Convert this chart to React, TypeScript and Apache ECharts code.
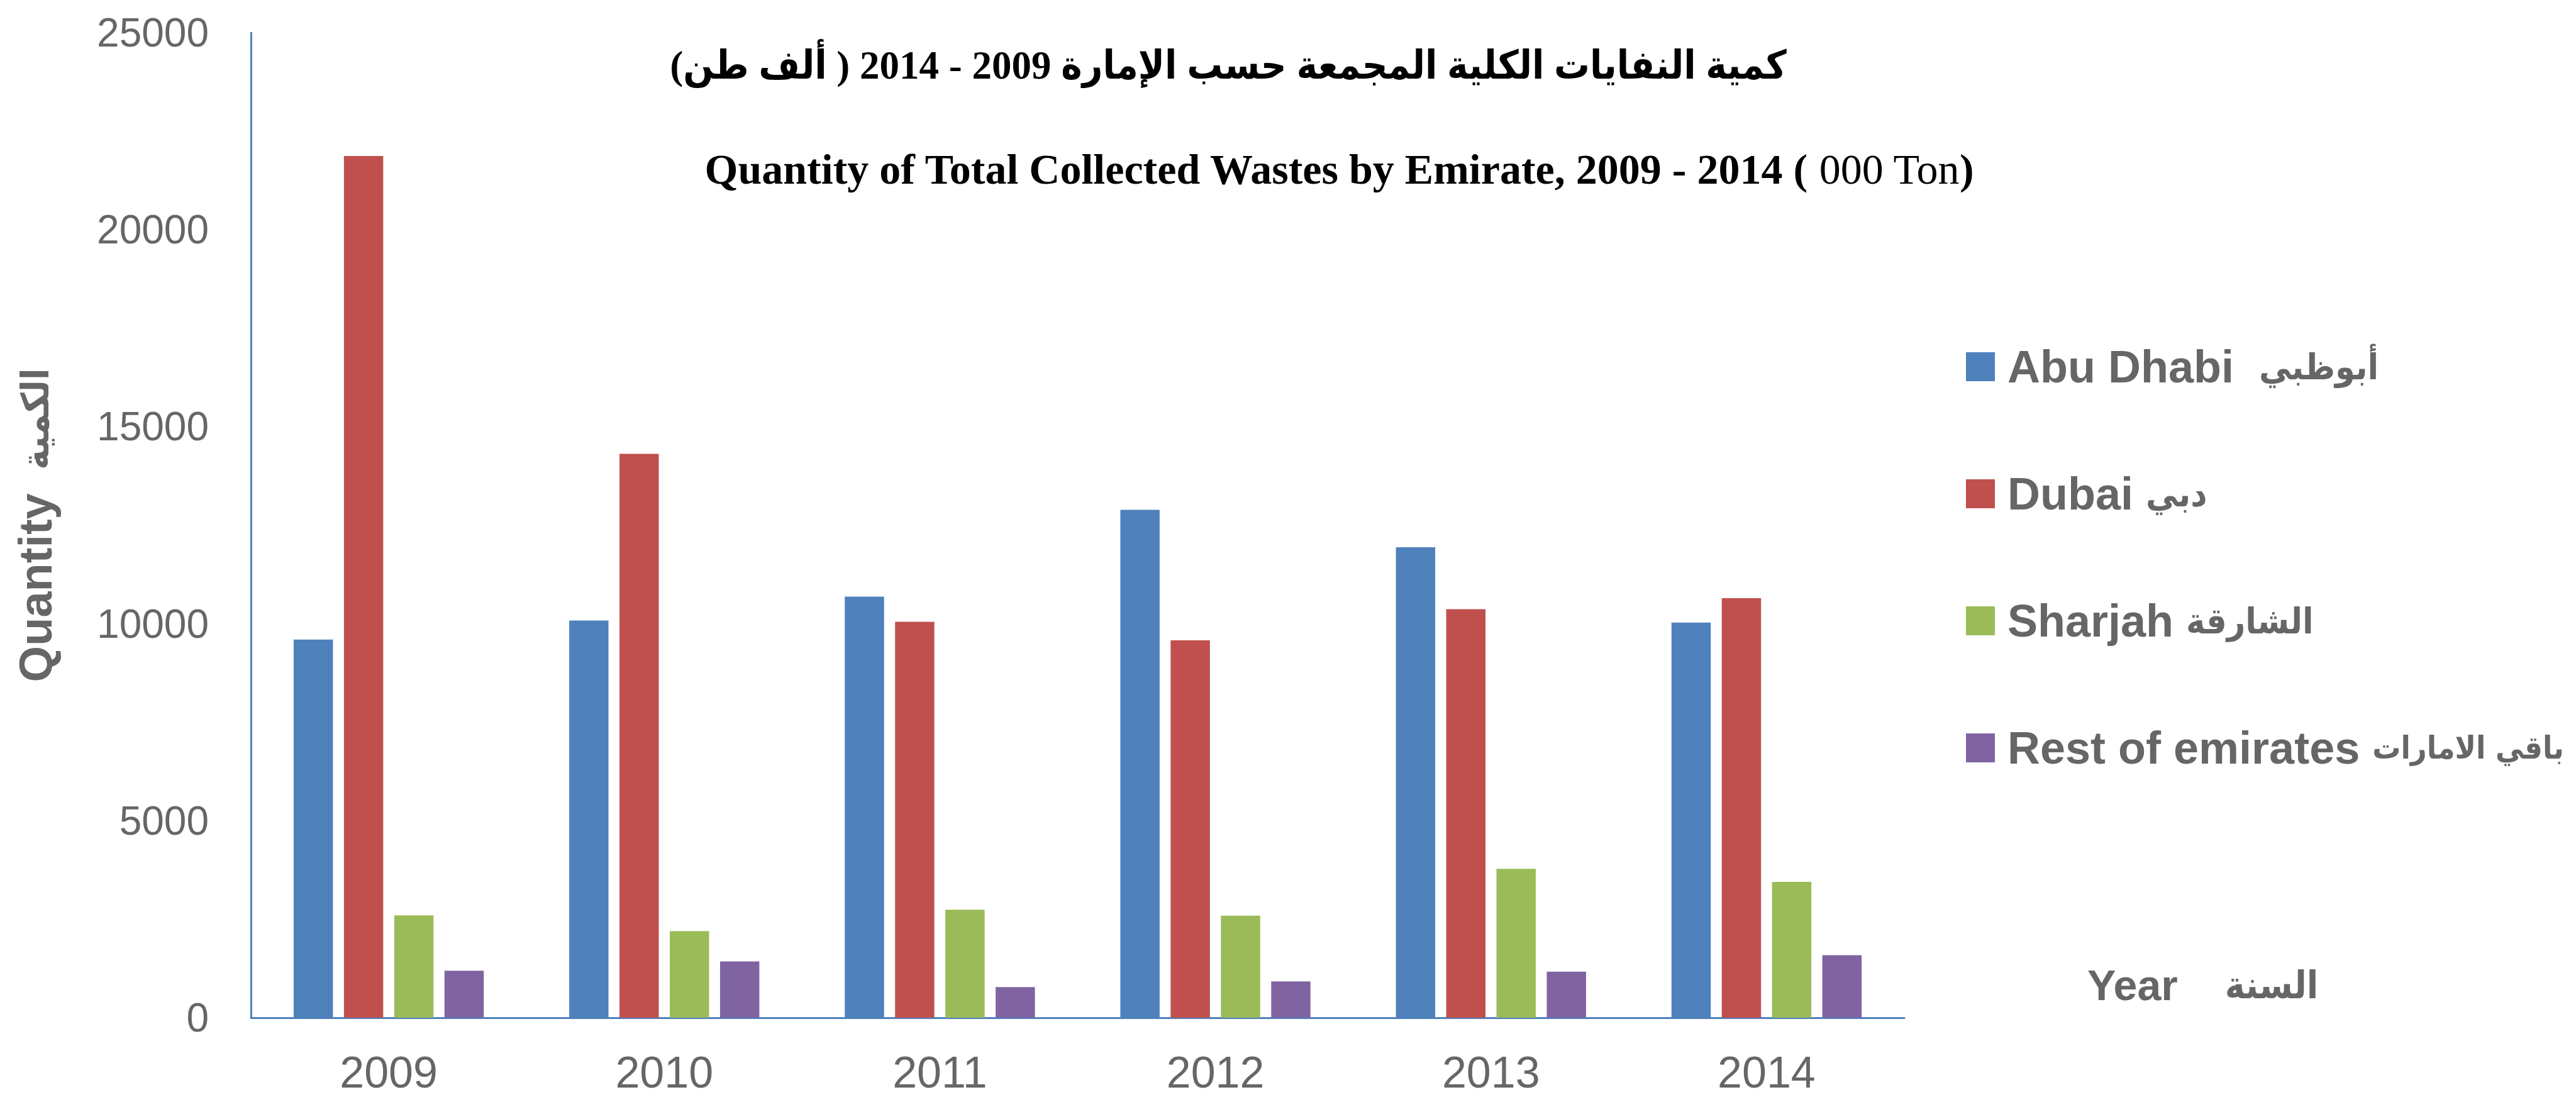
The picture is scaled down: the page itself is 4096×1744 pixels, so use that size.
import React, { useEffect, useRef } from "react";
import * as echarts from "echarts";

const years = ["2009", "2010", "2011", "2012", "2013", "2014"];
const namesEn = ["Abu Dhabi", "Dubai", "Sharjah", "Rest of emirates"];
const namesAr = ["أبوظبي", "دبي", "الشارقة", "باقي الامارات"];
const nameSep = ["  ", " ", " ", " "];
const abuDhabi = [9600, 10080, 10690, 12890, 11940, 10030];
const dubai = [21870, 14310, 10050, 9580, 10370, 10650];
const sharjah = [2600, 2200, 2740, 2590, 3780, 3450];
const restOfEmirates = [1195, 1430, 780, 920, 1170, 1590];
const colors = ["#4F81BD", "#C0504D", "#9BBB59", "#8064A2"];
const yTicks = { min: 0, max: 25000, interval: 5000 };

const titleAr = "كمية النفايات الكلية المجمعة حسب الإمارة 2009 - 2014 ( ألف طن)";
const titleEnBold = "Quantity of Total Collected Wastes by Emirate, 2009 - 2014 (";
const titleEnUnit = " 000 Ton";
const yNameEn = "Quantity";
const yNameAr = "الكمية";
const xNameEn = "Year";
const xNameAr = "السنة";

const GRAY = "#666666";
const SANS = "'Liberation Sans', 'DejaVu Sans Condensed', 'DejaVu Sans', sans-serif";
const AR = "'DejaVu Sans Condensed', 'DejaVu Sans', sans-serif";
const SERIF = "'Liberation Serif', 'DejaVu Sans Condensed', 'DejaVu Sans', serif";

export default function App() {
  const ref = useRef<HTMLDivElement>(null);
  useEffect(() => {
    if (!ref.current) return;
    const chart = echarts.init(ref.current, null, { renderer: "svg" });
    const data = [abuDhabi, dubai, sharjah, restOfEmirates];
    const seriesNames = namesEn.map((n, i) => n + nameSep[i] + namesAr[i]);
    chart.setOption({
      animation: false,
      backgroundColor: "#ffffff",
      grid: {
        left: 399,
        right: 1068,
        top: 52,
        bottom: 126,
        containLabel: false,
        outerBoundsMode: "none",
      },
      legend: {
        orient: "vertical",
        left: 3121,
        top: 542,
        itemGap: 130,
        itemWidth: 46,
        itemHeight: 46,
        icon: "rect",
        data: seriesNames,
        formatter: (name: string) => {
          const i = seriesNames.indexOf(name);
          const st = i === namesEn.length - 1 ? "arS" : "ar";
          return `{en|${namesEn[i]}${nameSep[i]}}{${st}|${namesAr[i]}}`;
        },
        textStyle: {
          fontSize: 72,
          lineHeight: 72,
          fontWeight: "bold",
          color: GRAY,
          fontFamily: SANS,
          padding: [0, 0, 0, 15],
          rich: {
            en: { fontSize: 72, fontWeight: "bold", color: GRAY, fontFamily: SANS, lineHeight: 72 },
            ar: { fontSize: 57, fontWeight: "bold", color: GRAY, fontFamily: AR, lineHeight: 72 },
            arS: { fontSize: 50, fontWeight: "bold", color: GRAY, fontFamily: AR, lineHeight: 72 },
          },
        },
      },
      xAxis: {
        type: "category",
        data: years,
        axisLine: { show: true, lineStyle: { color: "#4F81BD", width: 3 } },
        axisTick: { show: false },
        axisLabel: { color: GRAY, fontSize: 70, fontFamily: SANS, margin: 52 },
        splitLine: { show: false },
      },
      yAxis: {
        type: "value",
        min: yTicks.min,
        max: yTicks.max,
        interval: yTicks.interval,
        name: `{en|${yNameEn}}{ar|  ${yNameAr}}`,
        nameLocation: "middle",
        nameRotate: 90,
        nameGap: 306,
        nameMoveOverlap: false,
        nameTextStyle: {
          color: GRAY,
          fontSize: 74,
          fontWeight: "bold",
          fontFamily: SANS,
          rich: {
            en: { fontSize: 74, fontWeight: "bold", color: GRAY, fontFamily: SANS },
            ar: { fontSize: 60, fontWeight: "bold", color: GRAY, fontFamily: AR },
          },
        },
        axisLine: { show: true, lineStyle: { color: "#4F81BD", width: 3 } },
        axisTick: { show: false },
        axisLabel: {
          color: GRAY,
          fontSize: 64,
          fontFamily: SANS,
          margin: 67,
          formatter: (v: number) => String(v),
        },
        splitLine: { show: false },
      },
      graphic: [
        {
          type: "text",
          x: 1953,
          y: 104,
          style: {
            text: titleAr,
            font: `bold 63px ${SERIF}`,
            fill: "#000000",
            align: "center",
            verticalAlign: "middle",
          },
        },
        {
          type: "text",
          x: 2129,
          y: 269,
          style: {
            text: `{b|${titleEnBold}}{r|${titleEnUnit}}{b|)}`,
            fill: "#000000",
            align: "center",
            verticalAlign: "middle",
            rich: {
              b: { fontFamily: SERIF, fontWeight: "bold", fontSize: 68, fill: "#000000" },
              r: { fontFamily: SERIF, fontWeight: "normal", fontSize: 68, fill: "#000000" },
            },
          },
        },
        {
          type: "text",
          x: 3319,
          y: 1566,
          style: {
            text: `{en|${xNameEn}}{ar|    ${xNameAr}}`,
            fill: GRAY,
            align: "left",
            verticalAlign: "middle",
            rich: {
              en: { fontFamily: SANS, fontWeight: "bold", fontSize: 68, fill: GRAY },
              ar: { fontFamily: AR, fontWeight: "bold", fontSize: 60, fill: GRAY },
            },
          },
        },
      ],
      series: seriesNames.map((name, i) => ({
        name,
        type: "bar",
        data: data[i],
        barGap: "28%",
        barCategoryGap: "31%",
        itemStyle: { color: colors[i] },
      })),
    });
    return () => chart.dispose();
  }, []);
  return (
    <div
      ref={ref}
      style={{ position: "fixed", left: 0, top: 0, width: 4096, height: 1744, background: "#fff" }}
    />
  );
}
